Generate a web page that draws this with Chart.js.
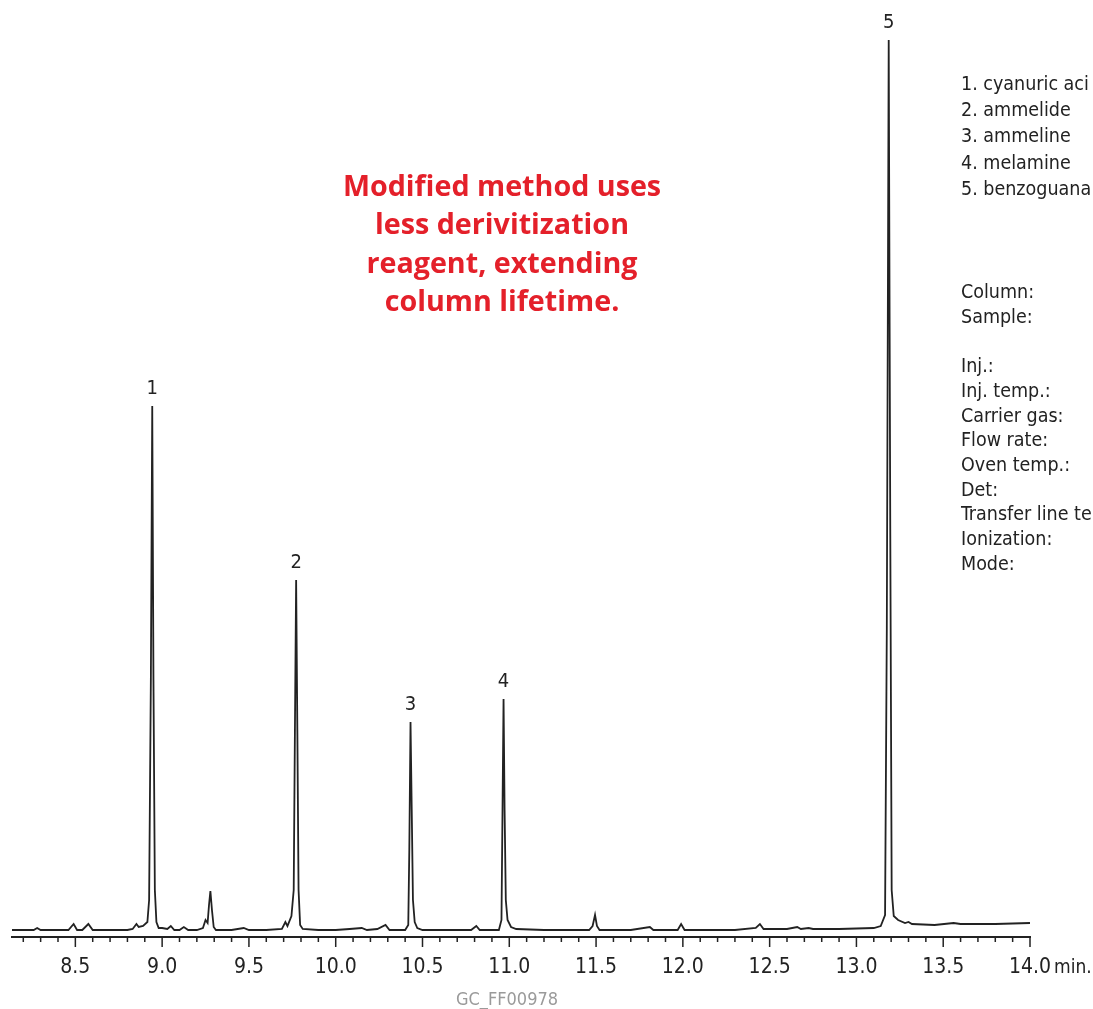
<!DOCTYPE html>
<html>
<head>
<meta charset="utf-8">
<script src="https://cdn.jsdelivr.net/npm/chart.js@4/dist/chart.umd.min.js"></script>
<style>
  html, body { margin: 0; padding: 0; background: #fff; }
  #wrap { position: relative; width: 1093px; height: 1009px; overflow: hidden; }
  #wrap canvas { position: absolute; left: 0; top: 0; }
  .narrow { font-family: "Liberation Sans Narrow", "DejaVu Sans Condensed", sans-serif; color: #222; }
  #note {
    position: absolute; left: 302px; top: 166px; width: 400px;
    font-family: "Open Sans", sans-serif; font-weight: bold; font-size: 28.7px;
    line-height: 38.3px; color: #e4202a; text-align: center;
  }
  #peaks { position: absolute; left: 961px; top: 71px; font-size: 19.5px; line-height: 26.2px; white-space: nowrap; }
  #cond { position: absolute; left: 961px; top: 280px; font-size: 19.5px; line-height: 24.7px; white-space: nowrap; }
  #code { position: absolute; left: 407px; top: 988px; width: 200px; text-align: center; font-size: 18px; color: #9a9a9a; }
</style>
</head>
<body>
<div id="wrap">
  <canvas id="gc" width="1093" height="1009"></canvas>
  <div id="note">Modified method uses<br>less derivitization<br>reagent, extending<br>column lifetime.</div>
  <div id="peaks" class="narrow"></div>
  <div id="cond" class="narrow"></div>
  <div id="code" class="narrow">GC_FF00978</div>
</div>
<script>
// DATA
const times = [
  8.135, 8.2, 8.26, 8.28, 8.30, 8.40, 8.46, 8.49, 8.51, 8.54, 8.575, 8.60, 8.70, 8.80, 8.83,
  8.852, 8.865, 8.89, 8.915, 8.925, 8.935, 8.943, 8.95, 8.958, 8.967, 8.98, 9.00, 9.03, 9.05,
  9.07, 9.10, 9.125, 9.15, 9.20, 9.235, 9.25, 9.262, 9.27, 9.278, 9.287, 9.297, 9.31, 9.40,
  9.47, 9.50, 9.60, 9.69, 9.71, 9.722, 9.745, 9.758, 9.765, 9.772, 9.779, 9.786, 9.795, 9.81,
  9.90, 10.0, 10.08, 10.15, 10.18, 10.24, 10.287, 10.31, 10.40, 10.418, 10.424, 10.431, 10.438,
  10.445, 10.455, 10.47, 10.50, 10.60, 10.78, 10.81, 10.83, 10.94, 10.955, 10.961, 10.967,
  10.973, 10.98, 10.99, 11.01, 11.04, 11.20, 11.46, 11.48, 11.494, 11.505, 11.52, 11.70, 11.81,
  11.83, 11.97, 11.99, 12.01, 12.30, 12.42, 12.444, 12.465, 12.60, 12.659, 12.68, 12.725, 12.75,
  12.90, 13.10, 13.14, 13.165, 13.175, 13.186, 13.195, 13.203, 13.215, 13.24, 13.28, 13.30,
  13.32, 13.45, 13.56, 13.60, 13.80, 14.0
];
const signal = [
  0, 0, 0, 2, 0, 0, 0, 6, 0, 0, 6, 0, 0, 0, 1,
  6, 3, 4, 8, 30, 250, 524, 250, 40, 8, 2, 2, 1, 4,
  0, 0, 3, 0, 0, 2, 10, 7, 25, 39, 20, 3, 0, 0,
  2, 0, 0, 1, 8, 4, 14, 40, 200, 350, 200, 40, 5, 1,
  0, 0, 1, 2, 0, 1, 5, 0, 0, 5, 80, 208, 120,
  30, 8, 2, 0, 0, 0, 4, 0, 0, 10, 120, 231,
  120, 30, 10, 3, 1, 0, 0, 4, 15, 4, 0, 0, 3,
  0, 0, 6, 0, 0, 2, 6, 1, 1, 3, 1, 2, 1,
  1, 2, 4, 15, 300, 890, 400, 40, 14, 10, 7, 8,
  6, 5, 7, 6, 6, 7
];

const peakNums = ["1", "2", "3", "4", "5"];
const peakTimes = [8.943, 9.772, 10.431, 10.967, 13.186];
const peakHeights = [524, 350, 208, 231, 890];
// names as far as they show before the right edge
const peakNames = ["cyanuric aci", "ammelide", "ammeline", "melamine", "benzoguana"];

const conditions = ["Column:", "Sample:", "", "Inj.:", "Inj. temp.:", "Carrier gas:", "Flow rate:",
  "Oven temp.:", "Det:", "Transfer line te", "Ionization:", "Mode:"];

const xMin = 8.135;
const xMax = 14.0;

// TEXT BLOCKS
document.getElementById("peaks").innerHTML =
  peakNames.map((n, i) => peakNums[i] + ". " + n).join("<br>");
document.getElementById("cond").innerHTML =
  conditions.map(c => c || "&nbsp;").join("<br>");

const narrow = '"Liberation Sans Narrow", "DejaVu Sans Condensed", sans-serif';

// ticks, peak numbers, "min."
const extras = {
  id: "extras",
  afterDraw(chart) {
    const ctx = chart.ctx;
    const xs = chart.scales.x;
    const ys = chart.scales.y;
    const bottom = chart.chartArea.bottom;
    ctx.save();
    ctx.strokeStyle = "#222";
    ctx.lineWidth = 1.5;
    xs.ticks.forEach(t => {
      const px = xs.getPixelForValue(t.value);
      const major = Math.abs(t.value * 2 - Math.round(t.value * 2)) < 1e-6;
      ctx.beginPath();
      ctx.moveTo(px, bottom);
      ctx.lineTo(px, bottom + (major ? 10 : 5));
      ctx.stroke();
    });

    ctx.fillStyle = "#222";
    ctx.font = "20px " + narrow;
    ctx.textAlign = "center";
    ctx.textBaseline = "middle";
    peakNums.forEach((n, i) => {
      const px = xs.getPixelForValue(peakTimes[i]);
      const py = ys.getPixelForValue(peakHeights[i]);
      ctx.fillText(n, px, py - 17);
    });

    ctx.textAlign = "left";
    ctx.font = "19px " + narrow;
    ctx.fillText("min.", xs.getPixelForValue(xMax) + 24, bottom + 31);
    ctx.restore();
  }
};

new Chart(document.getElementById("gc"), {
  type: "line",
  data: {
    datasets: [{
      data: times.map((t, i) => ({ x: t, y: signal[i] })),
      borderColor: "#222",
      borderWidth: 1.8,
      pointRadius: 0,
      tension: 0,
      fill: false
    }]
  },
  options: {
    responsive: false,
    animation: false,
    devicePixelRatio: 1,
    layout: { padding: { left: 12, right: 63, top: 0, bottom: 0 } },
    plugins: { legend: { display: false }, tooltip: { enabled: false } },
    scales: {
      x: {
        type: "linear",
        min: xMin,
        max: xMax,
        afterFit(scale) { scale.height = 72; },
        grid: { display: false, drawTicks: true, tickLength: 10 },
        border: { display: true, color: "#222", width: 2 },
        ticks: {
          stepSize: 0.1,
          includeBounds: false,
          autoSkip: false,
          maxRotation: 0,
          padding: 8,
          color: "#222",
          font: { family: narrow, size: 21 },
          callback: v => Math.abs(v * 2 - Math.round(v * 2)) < 1e-6 ? v.toFixed(1) : ""
        }
      },
      y: { display: false, min: -7, max: 930 }
    }
  },
  plugins: [extras]
});
</script>
</body>
</html>
